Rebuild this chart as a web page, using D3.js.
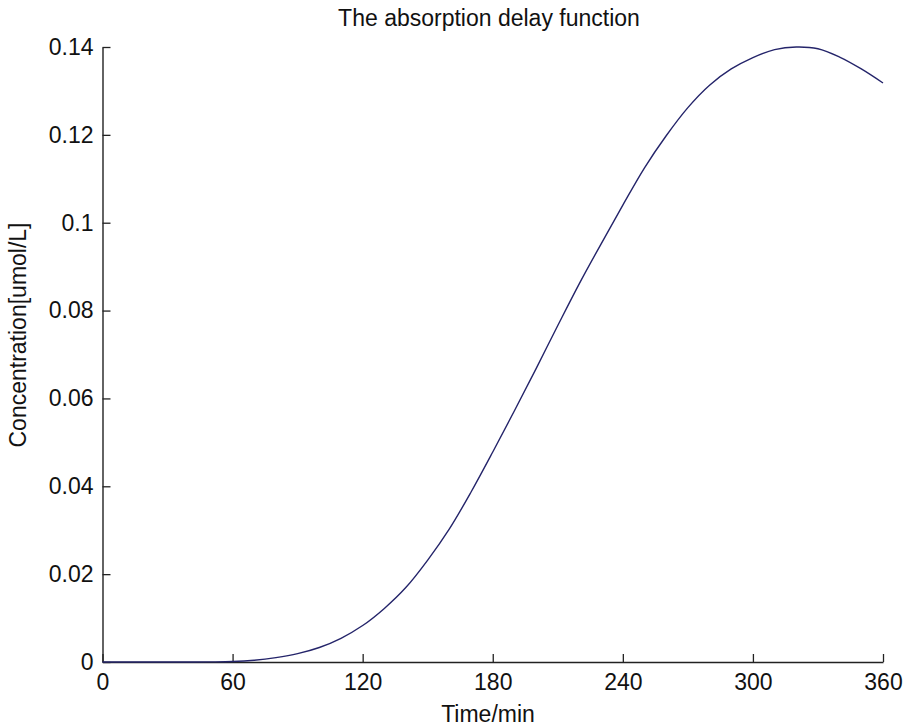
<!DOCTYPE html>
<html>
<head>
<meta charset="utf-8">
<script src="https://cdn.jsdelivr.net/npm/d3@7"></script>
<style>
  html, body { margin: 0; padding: 0; background: #fff; }
  svg { display: block; }
  text { font-family: "Liberation Sans", Arial, sans-serif; fill: #111; }
</style>
</head>
<body>
<svg id="chart" width="905" height="726"></svg>
<script>
// ---- data ----
const times = [0, 10, 20, 30, 40, 50, 60, 70, 80, 90, 100, 110, 120, 130, 140, 150, 160, 170, 180, 190, 200, 210, 220, 230, 240, 250, 260, 270, 280, 290, 300, 310, 320, 330, 340, 350, 360];
const concentration = [0, 0, 0, 0, 0, 0.00002, 0.0001, 0.0004, 0.0010, 0.0019, 0.0033, 0.0054, 0.0083, 0.0122, 0.0170, 0.0232, 0.0303, 0.0387, 0.0478, 0.0572, 0.0668, 0.0766, 0.0862, 0.0952, 0.1040, 0.1125, 0.1198, 0.1262, 0.1313, 0.1350, 0.1376, 0.1394, 0.1400, 0.1396, 0.1377, 0.1350, 0.1318];
const xTicks = [0, 60, 120, 180, 240, 300, 360];
const yTicks = [0, 0.02, 0.04, 0.06, 0.08, 0.1, 0.12, 0.14];
const yTickLabels = ["0", "0.02", "0.04", "0.06", "0.08", "0.1", "0.12", "0.14"];
const titleText = "The absorption delay function";
const xLabel = "Time/min";
const yLabel = "Concentration[umol/L]";

(function () {
const svg = d3.select("#chart");
const mLeft = 102.5, mRight = 883, mTop = 47, mBottom = 662;

const x = d3.scaleLinear().domain([0, 360]).range([mLeft, mRight]);
const y = d3.scaleLinear().domain([0, 0.14]).range([mBottom, mTop]);

const fs = 23;
const ff = "Liberation Sans, Arial, sans-serif";

// x axis
const xAxis = d3.axisBottom(x).tickValues(xTicks).tickSizeInner(-8).tickSizeOuter(0).tickPadding(12);
const gx = svg.append("g").attr("transform", `translate(0,${mBottom})`).call(xAxis);
gx.select(".domain").attr("stroke", "#222").attr("stroke-width", 1.4);
gx.selectAll(".tick line").attr("stroke", "#222").attr("stroke-width", 1.3);
gx.selectAll(".tick text").attr("font-size", fs).attr("font-family", ff).attr("fill", "#111");

// y axis
const yAxis = d3.axisLeft(y).tickValues(yTicks).tickFormat((d, i) => yTickLabels[i]).tickSizeInner(-8).tickSizeOuter(0).tickPadding(9);
const gy = svg.append("g").attr("transform", `translate(${mLeft},0)`).call(yAxis);
gy.select(".domain").attr("stroke", "#222").attr("stroke-width", 1.4);
gy.selectAll(".tick line").attr("stroke", "#222").attr("stroke-width", 1.3);
gy.selectAll(".tick text").attr("font-size", fs).attr("font-family", ff).attr("fill", "#111");

// curve
const pts = times.map((t, i) => [t, concentration[i]]);
const line = d3.line().x(d => x(d[0])).y(d => y(Math.max(0, d[1]))).curve(d3.curveCatmullRom.alpha(0.5));
svg.append("path").datum(pts)
  .attr("d", line)
  .attr("fill", "none")
  .attr("stroke", "#24246a")
  .attr("stroke-width", 1.4);

// title
svg.append("text").attr("x", 489).attr("y", 26).attr("text-anchor", "middle")
  .attr("font-size", fs).text(titleText);

// x label
svg.append("text").attr("x", 488).attr("y", 722).attr("text-anchor", "middle")
  .attr("font-size", fs).text(xLabel);

// y label
svg.append("text").attr("transform", `translate(26,335) rotate(-90)`)
  .attr("text-anchor", "middle").attr("font-size", fs).text(yLabel);
})();
</script>
</body>
</html>
